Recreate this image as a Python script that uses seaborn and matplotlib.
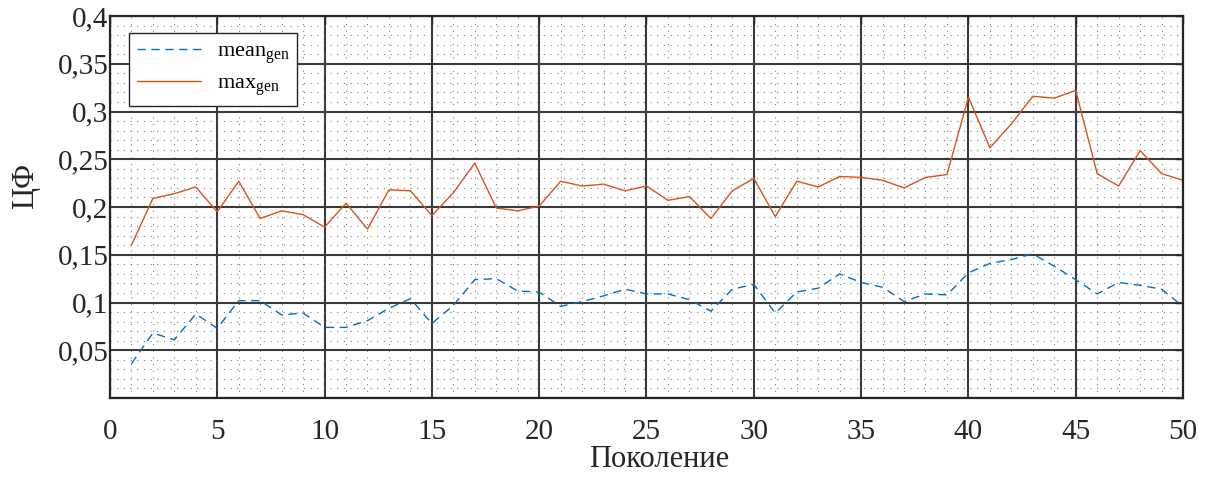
import numpy as np
import pandas as pd
import matplotlib
matplotlib.use("Agg")
import matplotlib.pyplot as plt
import seaborn as sns
from matplotlib.ticker import MultipleLocator, FuncFormatter

generations = list(range(1, 51))
max_gen = [0.160, 0.209, 0.214, 0.221, 0.195, 0.227, 0.188, 0.196, 0.192, 0.179,
           0.204, 0.177, 0.218, 0.217, 0.191, 0.215, 0.246, 0.199, 0.196, 0.201,
           0.227, 0.222, 0.224, 0.217, 0.222, 0.207, 0.211, 0.188, 0.217, 0.230,
           0.190, 0.227, 0.221, 0.232, 0.231, 0.228, 0.220, 0.231, 0.234, 0.315,
           0.262, 0.287, 0.316, 0.314, 0.322, 0.235, 0.222, 0.259, 0.235, 0.228]
mean_gen = [0.036, 0.068, 0.061, 0.088, 0.073, 0.102, 0.102, 0.087, 0.089, 0.074,
            0.074, 0.081, 0.094, 0.104, 0.078, 0.097, 0.124, 0.125, 0.112, 0.111,
            0.096, 0.101, 0.107, 0.114, 0.109, 0.109, 0.103, 0.091, 0.114, 0.119,
            0.089, 0.111, 0.115, 0.130, 0.121, 0.116, 0.101, 0.109, 0.108, 0.131,
            0.141, 0.145, 0.151, 0.138, 0.124, 0.109, 0.121, 0.118, 0.114, 0.096]
series_names = [r"$\mathrm{mean}_{\mathrm{gen}}$", r"$\mathrm{max}_{\mathrm{gen}}$"]
x_label = "Поколение"
y_label = "ЦФ"

sns.set_theme(style="white")
plt.rcParams['font.family'] = ['Liberation Serif', 'DejaVu Serif']
plt.rcParams['mathtext.fontset'] = 'custom'
plt.rcParams['mathtext.rm'] = 'Liberation Serif'
plt.rcParams['mathtext.it'] = 'Liberation Serif:italic'

df = pd.DataFrame({
    "gen": generations * 2,
    "value": mean_gen + max_gen,
    "series": [series_names[0]] * len(mean_gen) + [series_names[1]] * len(max_gen),
})

fig = plt.figure(figsize=(12.19, 4.79), dpi=100)
ax = fig.add_axes([0.0902, 0.169, 0.8803, 0.7976])

palette = {series_names[0]: "#0072BD", series_names[1]: "#D95319"}
sns.lineplot(data=df, x="gen", y="value", hue="series", style="series",
             palette=palette, dashes={series_names[0]: (6, 4), series_names[1]: ""},
             linewidth=1.0, ax=ax, legend=True)

ax.set_xlim(0, 50)
ax.set_ylim(0, 0.4)
ax.xaxis.set_major_locator(MultipleLocator(5))
ax.xaxis.set_minor_locator(MultipleLocator(1))
ax.yaxis.set_major_locator(MultipleLocator(0.05))
ax.yaxis.set_minor_locator(MultipleLocator(0.01))

def fmt(v, pos):
    if abs(v) < 1e-9:
        return ""
    s = ("%.2f" % v).rstrip("0").rstrip(".")
    return s.replace(".", ",")

ax.yaxis.set_major_formatter(FuncFormatter(fmt))

ax.grid(which="major", color="#3a3a3a", linewidth=1.5, linestyle="-")
ax.grid(which="minor", color="#808080", linewidth=0.8, linestyle=(0, (1, 5)))
ax.set_axisbelow(True)

ax.tick_params(which="both", direction="in", top=True, right=True,
               labelsize=21, colors="#262626", length=6, width=1.0)
ax.tick_params(which="minor", length=0)
ax.tick_params(axis="x", pad=15)
ax.tick_params(axis="y", pad=1)

for sp in ax.spines.values():
    sp.set_visible(True)
    sp.set_color("#262626")
    sp.set_linewidth(1.6)

ax.set_xlabel(x_label, fontsize=22, color="#262626")
ax.xaxis.set_label_coords(0.5117, -0.124)
ax.set_ylabel(y_label, fontsize=22, color="#262626")
ax.yaxis.set_label_coords(-0.065, 0.555)

leg = ax.legend(loc="upper left", bbox_to_anchor=(0.0177, 0.955), borderaxespad=0,
                fontsize=16, handlelength=2.9, handletextpad=0.7, frameon=True,
                fancybox=False, edgecolor="#262626", framealpha=1.0,
                borderpad=0.35, labelspacing=0.35)
leg.get_frame().set_linewidth(1.0)
for t in leg.get_texts():
    t.set_color("black")

fig.savefig("out.png", dpi=100)
